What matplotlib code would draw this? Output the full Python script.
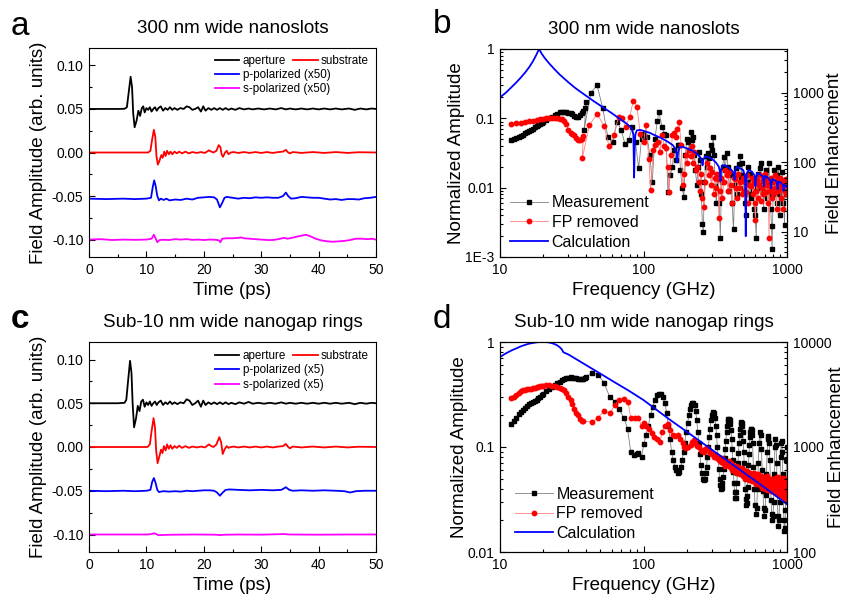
import matplotlib
matplotlib.use("Agg")
import matplotlib.pyplot as plt
from matplotlib.lines import Line2D
from matplotlib.ticker import FixedLocator, FixedFormatter, NullFormatter, LogLocator, MultipleLocator

plt.rcParams['font.family'] = ['Liberation Sans', 'DejaVu Sans']
plt.rcParams['axes.unicode_minus'] = False

# ---------------- panel a : 300 nm nanoslots, time traces ----------------
a_ap_t = [0, 5, 6.2, 6.6, 6.9, 7.25, 7.5, 7.7, 7.95, 8.3, 8.6, 8.9, 9.2, 9.45, 9.7, 10.0, 10.3, 10.6, 10.9,
          11.2, 11.5, 11.8, 12.1, 12.5, 12.9, 13.3, 13.7, 14.1, 14.5, 14.9, 15.4, 15.9, 16.5, 17.0, 17.5, 18.0,
          18.5, 19.0, 19.5, 19.9, 20.3, 20.8, 21.3, 21.8, 22.3, 22.8, 23.3, 23.8, 24.3, 24.8, 25.5, 26.2, 27,
          27.8, 28.5, 29.5, 30.5, 31.5, 32.5, 33.5, 34.3, 35, 36, 37, 38, 39, 40, 41, 42, 43, 44, 45.3, 46.3,
          47.3, 48.3, 49.2, 50]
a_ap_v = [0.050, 0.050, 0.0502, 0.052, 0.068, 0.087, 0.075, 0.045, 0.029, 0.037, 0.048, 0.042, 0.051, 0.053,
          0.046, 0.051, 0.049, 0.052, 0.047, 0.050, 0.052, 0.048, 0.051, 0.053, 0.048, 0.051, 0.049, 0.052,
          0.049, 0.051, 0.049, 0.051, 0.050, 0.053, 0.052, 0.049, 0.050, 0.052, 0.047, 0.053, 0.048, 0.051,
          0.049, 0.051, 0.049, 0.051, 0.049, 0.051, 0.049, 0.0505, 0.049, 0.051, 0.0495, 0.0505, 0.0495,
          0.0505, 0.0495, 0.0505, 0.0495, 0.051, 0.0495, 0.0505, 0.0495, 0.0505, 0.0495, 0.0505, 0.0495,
          0.0505, 0.0495, 0.0505, 0.0495, 0.0505, 0.049, 0.0505, 0.0495, 0.0505, 0.050]
a_sub_t = [0, 10.3, 10.7, 11.0, 11.3, 11.55, 11.75, 12.0, 12.3, 12.6, 12.85, 13.1, 13.35, 13.6, 13.9, 14.2, 14.5,
           14.9, 15.3, 15.7, 16.2, 16.8, 17.4, 18, 18.8, 19.5, 20.2, 20.9, 21.3, 21.7, 22.2, 22.6, 22.9, 23.1,
           23.35, 23.7, 24.0, 24.3, 24.7, 25.2, 26, 27, 28, 29, 30, 31, 32, 33, 33.8, 34.3, 34.7, 35, 35.5, 37,
           39, 41, 43, 45, 47, 50]
a_sub_v = [0, 0, 0.002, 0.015, 0.026, 0.018, -0.004, -0.014, -0.009, -0.003, -0.006, 0.001, -0.004, 0.002,
           -0.002, 0.001, -0.002, 0.001, -0.001, 0.001, -0.001, 0.001, -0.001, 0.0005, -0.0005, 0.0005, -0.0005,
           0.0025, 0.001, 0.0, 0.002, 0.0085, 0.006, -0.002, -0.005, 0.0, 0.002, -0.002, 0.0, 0.0005, -0.0005,
           0.0005, -0.0005, 0.0005, -0.0005, 0.0005, -0.0005, 0.0005, 0.001, 0.003, 0.0, -0.001, 0.0005,
           -0.0005, 0.0005, -0.0005, 0.0005, -0.0005, 0.0003, 0]
a_p_t = [0, 3, 6, 8, 10, 10.8, 11.1, 11.35, 11.6, 11.9, 12.2, 12.5, 13, 13.5, 14, 15, 16, 17, 18, 19, 20, 21,
         21.8, 22.3, 22.8, 23.2, 23.6, 24, 25, 26, 27, 28, 29, 30, 31, 32, 33, 33.8, 34.3, 34.7, 35.2, 36, 37,
         38, 39, 40, 41, 42, 43, 44, 45, 46, 47, 48, 49, 50]
a_p_v = [-0.053, -0.0535, -0.053, -0.0535, -0.053, -0.052, -0.040, -0.032, -0.038, -0.050, -0.055, -0.053,
         -0.0545, -0.053, -0.055, -0.054, -0.0545, -0.053, -0.054, -0.052, -0.0515, -0.051, -0.0515, -0.054,
         -0.063, -0.058, -0.052, -0.051, -0.052, -0.053, -0.052, -0.0525, -0.0515, -0.052, -0.0515, -0.052,
         -0.052, -0.050, -0.046, -0.050, -0.053, -0.0525, -0.051, -0.0515, -0.052, -0.052, -0.053, -0.054,
         -0.0535, -0.0545, -0.0535, -0.0535, -0.054, -0.0525, -0.052, -0.051]
a_s_t = [0, 2, 4, 6, 8, 10, 10.9, 11.3, 11.6, 11.9, 12.3, 13, 14, 15, 16, 17, 18, 19, 20, 21, 22, 22.6, 22.9,
         23.2, 24, 25, 26, 26.5, 27, 28, 29, 30, 31, 32, 33, 34, 34.5, 35, 36, 37, 37.8, 38.5, 39.5, 40.5, 41.5,
         42.5, 43.5, 44.5, 45.5, 46.5, 47.5, 48.5, 49.3, 50]
a_s_v = [-0.100, -0.0995, -0.1005, -0.100, -0.1003, -0.100, -0.099, -0.0945, -0.0985, -0.103, -0.1005, -0.1002,
         -0.1005, -0.0995, -0.100, -0.0995, -0.1003, -0.100, -0.1005, -0.100, -0.1002, -0.1008, -0.103, -0.099,
         -0.0985, -0.0985, -0.098, -0.0975, -0.0985, -0.099, -0.0995, -0.100, -0.1005, -0.1005, -0.0995,
         -0.098, -0.099, -0.0985, -0.097, -0.0955, -0.0945, -0.096, -0.099, -0.101, -0.102, -0.1025, -0.102,
         -0.1015, -0.1005, -0.099, -0.099, -0.0995, -0.099, -0.100]

# ---------------- panel c : sub-10 nm nanogap rings, time traces ----------------
c_ap_t = [0, 5, 6.2, 6.5, 6.8, 7.15, 7.4, 7.6, 7.85, 8.2, 8.5, 8.8, 9.1, 9.4, 9.7, 10.0, 10.3, 10.6, 10.9,
          11.2, 11.5, 11.8, 12.1, 12.5, 12.9, 13.3, 13.7, 14.1, 14.5, 14.9, 15.4, 15.9, 16.5, 17.0, 17.5, 18.0,
          18.5, 19.0, 19.5, 19.9, 20.3, 20.8, 21.3, 21.8, 22.3, 22.8, 23.3, 23.8, 24.3, 24.8, 25.5, 26.2, 27,
          27.8, 28.5, 29.5, 30.5, 31.5, 32.5, 33.5, 34.3, 35, 36, 37, 38, 39, 40, 41, 42, 43, 44, 45.3, 46.3,
          47.3, 48.3, 49.2, 50]
c_ap_v = [0.050, 0.050, 0.0505, 0.054, 0.075, 0.0985, 0.085, 0.050, 0.0225, 0.033, 0.047, 0.041, 0.052, 0.054,
          0.046, 0.051, 0.048, 0.052, 0.047, 0.050, 0.052, 0.048, 0.051, 0.053, 0.048, 0.051, 0.049, 0.052,
          0.049, 0.051, 0.049, 0.051, 0.050, 0.0545, 0.053, 0.048, 0.050, 0.053, 0.046, 0.053, 0.048, 0.051,
          0.049, 0.051, 0.049, 0.051, 0.049, 0.051, 0.049, 0.0505, 0.049, 0.051, 0.0495, 0.0515, 0.0495,
          0.0505, 0.0495, 0.0505, 0.0495, 0.051, 0.0495, 0.0505, 0.0495, 0.0505, 0.0495, 0.0505, 0.0495,
          0.0505, 0.0495, 0.0505, 0.0495, 0.0505, 0.049, 0.0505, 0.0495, 0.0505, 0.050]
c_sub_t = [0, 10.2, 10.6, 10.9, 11.25, 11.5, 11.7, 11.95, 12.25, 12.55, 12.8, 13.05, 13.35, 13.6, 13.9, 14.2,
           14.5, 14.9, 15.3, 15.7, 16.2, 16.8, 17.4, 18, 18.8, 19.5, 20.2, 20.9, 21.3, 21.7, 22.2, 22.7, 23.0,
           23.3, 23.6, 24.0, 24.3, 24.7, 25.2, 26, 27, 28, 29, 30, 31, 32, 33, 33.8, 34.3, 34.7, 35, 35.5, 37,
           39, 41, 43, 45, 47, 50]
c_sub_v = [0, 0, 0.003, 0.018, 0.033, 0.022, -0.004, -0.0185, -0.011, -0.003, -0.007, 0.001, -0.004, 0.003,
           -0.002, 0.002, -0.002, 0.001, -0.001, 0.0015, -0.001, 0.001, -0.001, 0.0005, -0.0005, 0.0005, -0.0005,
           0.003, 0.001, 0.0, 0.003, 0.0113, 0.006, -0.008, -0.003, 0.001, -0.001, 0.0, 0.0005, -0.0005, 0.0005,
           -0.0005, 0.0005, -0.0005, 0.0005, -0.0005, 0.0005, 0.001, 0.0035, 0.0, -0.0015, 0.0005, -0.0005,
           0.0005, -0.0005, 0.0005, -0.0005, 0.0003, 0]
c_p_t = [0, 3, 6, 8, 10, 10.7, 11.0, 11.3, 11.6, 11.9, 12.2, 12.5, 13, 14, 15, 16, 17, 18, 19, 20, 21, 21.8,
         22.3, 22.8, 23.3, 23.8, 24.5, 26, 28, 30, 32, 33.5, 34.3, 34.9, 35.5, 37, 39, 41, 43, 44.5, 45.5, 46.5,
         48, 50]
c_p_v = [-0.050, -0.0505, -0.050, -0.0505, -0.050, -0.049, -0.040, -0.0355, -0.041, -0.049, -0.0515, -0.051,
         -0.0505, -0.051, -0.0505, -0.051, -0.050, -0.0505, -0.050, -0.0495, -0.0495, -0.050, -0.052, -0.0557,
         -0.052, -0.049, -0.0485, -0.049, -0.0495, -0.049, -0.0495, -0.049, -0.046, -0.049, -0.050, -0.0495,
         -0.050, -0.0495, -0.050, -0.0505, -0.052, -0.0505, -0.050, -0.050]
c_s_t = [0, 5, 10, 10.9, 11.3, 11.7, 12.1, 14, 18, 22, 22.8, 23.4, 26, 30, 34, 35, 40, 45, 50]
c_s_v = [-0.100, -0.100, -0.100, -0.0995, -0.0985, -0.0995, -0.1008, -0.1003, -0.100, -0.1002, -0.1007,
         -0.1003, -0.1, -0.1002, -0.0995, -0.1, -0.1002, -0.1, -0.1]

# ---------------- panel b : 300 nm nanoslots, spectra ----------------
b_meas_f = [12, 12.5, 13, 13.5, 14, 14.5, 15, 15.5, 16, 16.5, 17, 17.5, 18, 18.5, 19, 19.5, 20, 21, 22, 23, 24,
            25, 26, 27, 28, 29, 30, 31, 32, 33, 34, 35, 36, 37, 38, 39, 40,
            38.5, 43, 47.5, 52, 56.5, 61, 65.5, 70, 74.5, 79, 83.5, 88, 92.5, 97, 101.5, 106, 110.5, 115, 120,
            125, 128, 135, 140, 143, 148, 153, 159, 163, 168, 173, 177, 181, 186, 191, 196, 200, 205, 209, 213,
            217, 221, 226, 230, 235, 240, 245, 249, 253, 257, 261, 266, 272, 277, 282, 288, 294, 300, 306, 311,
            316, 322, 330, 337, 343, 350, 356, 363, 371, 380, 388, 396, 405, 414, 424, 432, 440, 448, 456, 465,
            473, 480, 488, 497, 507, 517, 526, 535, 544, 554, 563, 573, 582, 591, 600, 610, 620, 630, 640, 650,
            657, 667, 677, 688, 698, 708, 718, 728, 738, 749, 760, 770, 780, 787, 800, 812, 824, 833, 845, 857,
            870, 880, 892, 905, 917, 928, 940, 950, 961, 972, 985, 995]
b_meas_v = [0.049, 0.050, 0.052, 0.054, 0.056, 0.058, 0.061, 0.063, 0.066, 0.068, 0.071, 0.074, 0.077, 0.080,
            0.083, 0.086, 0.089, 0.095, 0.101, 0.106, 0.112, 0.117, 0.122, 0.125, 0.124, 0.122, 0.120, 0.118,
            0.114, 0.108, 0.105, 0.106, 0.111, 0.118, 0.128, 0.142, 0.170,
            0.067, 0.235, 0.30, 0.14, 0.053, 0.045, 0.09, 0.067, 0.042, 0.048, 0.076, 0.045, 0.019, 0.051,
            0.060, 0.054, 0.030, 0.012, 0.050, 0.093, 0.122, 0.074, 0.060, 0.057, 0.0087, 0.015, 0.020, 0.035,
            0.025, 0.041, 0.041, 0.018, 0.0099, 0.0074, 0.030, 0.051, 0.045, 0.035, 0.063, 0.048, 0.054, 0.030,
            0.018, 0.011, 0.020, 0.033, 0.025, 0.008, 0.003, 0.0023, 0.012, 0.029, 0.020, 0.032, 0.027, 0.041,
            0.035, 0.054, 0.030, 0.0104, 0.006, 0.015, 0.006, 0.0019, 0.012, 0.020, 0.028, 0.018, 0.032, 0.020,
            0.009, 0.015, 0.006, 0.0025, 0.011, 0.019, 0.008, 0.014, 0.022, 0.029, 0.015, 0.023, 0.010, 0.006,
            0.004, 0.012, 0.020, 0.008, 0.016, 0.007, 0.0135, 0.009, 0.005, 0.004, 0.0019, 0.010, 0.016, 0.012,
            0.019, 0.023, 0.009, 0.0087, 0.005, 0.014, 0.010, 0.018, 0.007, 0.012, 0.023, 0.008, 0.005, 0.0028,
            0.0013, 0.008, 0.018, 0.010, 0.011, 0.006, 0.015, 0.020, 0.008, 0.004, 0.012, 0.009, 0.0167, 0.006,
            0.010, 0.0029, 0.012, 0.008, 0.011]
b_fp_f = [12, 13, 14, 15, 16, 17, 18, 19, 20, 21, 22, 23, 24, 25, 26, 27, 28, 29, 30, 31, 32, 33, 34, 35, 36,
          37, 38,
          37.5, 42, 47.5, 53, 57.5, 62, 67, 71, 75, 80, 85, 90, 95, 100, 104, 109, 112, 117, 121, 126, 130, 135,
          139, 143, 147, 151, 155, 159, 163, 168, 172, 177, 183, 188, 193, 198, 202, 207, 213, 217, 221, 226,
          231, 237, 243, 249, 253, 257, 264, 270, 278, 284, 290, 296, 302, 308, 314, 320, 326, 332, 335, 342,
          348, 355, 362, 370, 380, 388, 397, 405, 414, 424, 433, 440, 447, 456, 465, 473, 482, 490, 500, 508,
          517, 526, 535, 545, 559, 567, 576, 585, 595, 603, 610, 620, 630, 640, 650, 657, 665, 675, 685, 695,
          704, 712, 722, 733, 741, 749, 758, 768, 778, 790, 800, 810, 822, 834, 846, 858, 870, 884, 895, 907,
          918, 930, 942, 952, 961, 972, 980, 990, 998]
b_fp_v = [0.083, 0.085, 0.087, 0.089, 0.091, 0.093, 0.095, 0.097, 0.099, 0.100, 0.101, 0.100, 0.100, 0.101,
          0.099, 0.097, 0.093, 0.083, 0.068, 0.062, 0.060, 0.057, 0.052, 0.049, 0.048, 0.050, 0.055,
          0.027, 0.080, 0.116, 0.078, 0.040, 0.057, 0.105, 0.100, 0.075, 0.105, 0.180, 0.145, 0.060, 0.045,
          0.079, 0.026, 0.0092, 0.035, 0.041, 0.045, 0.033, 0.057, 0.040, 0.037, 0.020, 0.0087, 0.030, 0.057,
          0.062, 0.054, 0.070, 0.088, 0.041, 0.011, 0.016, 0.030, 0.023, 0.035, 0.029, 0.040, 0.023, 0.033,
          0.018, 0.020, 0.012, 0.009, 0.016, 0.0071, 0.0052, 0.012, 0.023, 0.015, 0.019, 0.011, 0.0167, 0.008,
          0.014, 0.010, 0.016, 0.0135, 0.0036, 0.009, 0.014, 0.0071, 0.012, 0.018, 0.0152, 0.009, 0.0167,
          0.011, 0.006, 0.014, 0.0132, 0.010, 0.0071, 0.016, 0.010, 0.0119, 0.008, 0.014, 0.009, 0.012,
          0.0087, 0.015, 0.006, 0.011, 0.0107, 0.014, 0.008, 0.012, 0.006, 0.0034, 0.009, 0.013, 0.007, 0.011,
          0.015, 0.0065, 0.010, 0.013, 0.008, 0.012, 0.016, 0.0087, 0.011, 0.006, 0.013, 0.0019, 0.009, 0.014,
          0.010, 0.007, 0.012, 0.0083, 0.015, 0.010, 0.005, 0.013, 0.009, 0.011, 0.014, 0.007, 0.012, 0.010,
          0.005, 0.013, 0.011, 0.009, 0.0135, 0.008, 0.012]
b_calc_f = [10, 11, 12, 13, 14, 15, 16, 17, 18, 18.7, 19.5, 20.5, 22, 24, 26, 28, 30, 33, 36, 40, 45, 50, 55,
            60, 65, 70, 75, 80, 83, 85, 86, 87, 88, 90, 95, 100, 110, 120, 130, 140, 150, 160, 166, 170, 172,
            174, 178, 185, 200, 220, 240, 250, 255, 258, 261, 268, 280, 300, 320, 335, 341, 344, 347, 355, 370,
            400, 420, 428, 431, 434, 445, 470, 495, 508, 513, 516, 519, 524, 540, 570, 595, 600, 603, 607, 620,
            650, 680, 686, 689, 693, 705, 740, 766, 771, 775, 779, 790, 830, 852, 857, 861, 865, 875, 910, 938,
            943, 947, 951, 962, 985, 1000]
b_calc_v = [0.20, 0.235, 0.28, 0.33, 0.39, 0.46, 0.55, 0.67, 0.84, 1.0, 0.86, 0.74, 0.62, 0.51, 0.43, 0.375,
            0.33, 0.28, 0.245, 0.21, 0.177, 0.153, 0.134, 0.119, 0.106, 0.095, 0.086, 0.077, 0.070, 0.058,
            0.014, 0.045, 0.060, 0.067, 0.068, 0.066, 0.062, 0.057, 0.053, 0.049, 0.045, 0.041, 0.037, 0.031,
            0.023, 0.032, 0.038, 0.039, 0.037, 0.034, 0.030, 0.027, 0.024, 0.021, 0.025, 0.028, 0.028, 0.026,
            0.023, 0.020, 0.017, 0.0125, 0.018, 0.021, 0.021, 0.019, 0.017, 0.015, 0.013, 0.017, 0.020, 0.019,
            0.018, 0.015, 0.009, 0.002, 0.009, 0.016, 0.018, 0.017, 0.015, 0.012, 0.0105, 0.013, 0.0163, 0.0155,
            0.0145, 0.012, 0.0105, 0.0125, 0.0148, 0.0138, 0.0125, 0.011, 0.0098, 0.011, 0.0133, 0.0127, 0.012,
            0.0105, 0.0095, 0.0105, 0.0122, 0.0117, 0.011, 0.0098, 0.009, 0.0098, 0.011, 0.0105, 0.0101]

# ---------------- panel d : sub-10 nm nanogap rings, spectra ----------------
d_meas_f = [12, 12.5, 13, 13.5, 14, 14.5, 15, 15.5, 16, 16.5, 17, 17.5, 18, 18.5, 19, 19.5, 20, 21, 22, 23, 24,
            25, 26, 27, 28, 29, 30, 31, 32, 33, 34, 35, 36, 37, 38, 39, 40,
            43.5, 48.3, 52.9, 58.2, 63.2, 67.3, 72.9, 77.4, 81.5, 85.9, 89.5, 92, 96.9, 100.5, 104, 108, 112,
            116, 120, 125, 129, 133, 137, 141, 145, 149, 153, 157, 161, 165, 169, 174, 178, 182, 186, 190, 194,
            198, 203, 207, 211, 215, 219, 223, 227, 231, 235, 239, 243, 247, 251, 255, 259, 263, 267, 271, 275,
            279, 283, 287, 291, 295, 299, 303, 307, 311, 315, 319, 323, 327, 331, 335, 339, 343, 347, 351, 355,
            359, 363, 367, 371, 375, 379, 383, 387, 391, 395, 399, 403, 407, 411, 415, 419, 423, 427, 431, 435,
            439, 443, 447, 451, 455, 459, 463, 467, 471, 475, 479, 483, 487, 491, 495, 499, 503, 507, 511, 515,
            519, 523, 527, 531, 535, 539, 543, 547, 551, 555, 559, 563, 567, 571, 575, 583, 591, 599, 607, 615,
            623, 631, 639, 647, 655, 663, 671, 679, 687, 695, 703, 711, 719, 727, 735, 743, 751, 759, 767, 775,
            783, 791, 799, 807, 815, 823, 831, 839, 847, 855, 863, 871, 879, 887, 895, 903, 911, 919, 927, 935,
            943, 951, 959, 967, 975, 983, 991, 999]
d_meas_v = [0.167, 0.175, 0.19, 0.205, 0.215, 0.225, 0.235, 0.245, 0.255, 0.26, 0.267, 0.275, 0.282, 0.29,
            0.30, 0.31, 0.32, 0.34, 0.358, 0.375, 0.39, 0.405, 0.42, 0.435, 0.445, 0.452, 0.457, 0.46, 0.458,
            0.455, 0.45, 0.445, 0.44, 0.443, 0.448, 0.455, 0.465,
            0.51, 0.49, 0.41, 0.30, 0.27, 0.232, 0.19, 0.15, 0.09, 0.083, 0.086, 0.087, 0.081, 0.106, 0.13,
            0.16, 0.2, 0.24, 0.28, 0.31, 0.32, 0.32, 0.30, 0.26, 0.21, 0.16, 0.12, 0.09, 0.075, 0.065, 0.06,
            0.056, 0.058, 0.065, 0.075, 0.09, 0.11, 0.14, 0.17, 0.2, 0.23, 0.25, 0.26, 0.265, 0.25, 0.22, 0.18,
            0.14, 0.11, 0.085, 0.068, 0.057, 0.05, 0.048, 0.05, 0.056, 0.065, 0.08, 0.1, 0.125, 0.15, 0.18, 0.2,
            0.21, 0.216, 0.21, 0.19, 0.16, 0.13, 0.1, 0.08, 0.062, 0.05, 0.043, 0.040, 0.041, 0.045, 0.052,
            0.062, 0.078, 0.095, 0.115, 0.14, 0.16, 0.175, 0.185, 0.186, 0.18, 0.165, 0.145, 0.12, 0.095, 0.075,
            0.058, 0.045, 0.037, 0.0325, 0.033, 0.037, 0.045, 0.056, 0.07, 0.088, 0.11, 0.13, 0.15, 0.165,
            0.173, 0.17, 0.16, 0.14, 0.115, 0.09, 0.07, 0.053, 0.04, 0.032, 0.028, 0.029, 0.034, 0.042, 0.053,
            0.067, 0.085, 0.105, 0.125, 0.14, 0.148, 0.15, 0.145, 0.13, 0.11, 0.065, 0.04, 0.028, 0.023, 0.026,
            0.04, 0.07, 0.11, 0.139, 0.13, 0.095, 0.06, 0.038, 0.026, 0.022, 0.025, 0.035, 0.055, 0.09, 0.12,
            0.128, 0.11, 0.075, 0.048, 0.031, 0.023, 0.020, 0.022, 0.03, 0.055, 0.1, 0.12, 0.105, 0.07, 0.04,
            0.022, 0.0175, 0.02, 0.03, 0.05, 0.08, 0.11, 0.115, 0.09, 0.055, 0.032, 0.02, 0.016, 0.017, 0.025,
            0.045, 0.075, 0.1]
d_fp_f = [12, 12.5, 13, 13.5, 14, 14.5, 15, 15.5, 16, 16.5, 17, 17.5, 18, 18.5, 19, 19.5, 20, 21, 22, 23, 24,
          25, 26, 27, 28, 29, 30, 31, 32, 33, 34, 35, 36, 37, 38,
          43.5, 48.3, 53, 58.2, 63.2, 67.3, 72.9, 78, 81.5, 87, 91.7, 97, 100, 104, 109, 114, 118, 124, 130,
          135, 141, 147, 153, 160, 167, 174, 180, 187, 192, 197, 205, 213, 218, 224, 230, 236, 243, 250, 256,
          263, 270, 277, 285, 292, 300, 310, 318, 326, 334, 346, 352, 358, 364, 370, 376, 382, 390, 396, 402,
          408, 414, 420, 426, 432, 438, 444, 450, 456, 462, 468, 474, 480, 486, 492, 498, 504, 510, 516, 522,
          528, 534, 540, 546, 552, 558, 564, 570, 576, 582, 588, 594, 600, 606, 612, 618, 624, 630, 636, 642,
          648, 654, 660, 666, 672, 678, 684, 690, 696, 702, 708, 714, 720, 726, 732, 738, 744, 750, 756, 762,
          768, 774, 780, 786, 792, 798, 804, 810, 816, 822, 828, 834, 840, 846, 852, 858, 864, 870, 876, 882,
          888, 894, 900, 906, 912, 918, 924, 930, 936, 942, 948, 954, 960, 966, 972, 978, 984, 990, 996]
d_fp_v = [0.29, 0.30, 0.315, 0.33, 0.34, 0.35, 0.352, 0.355, 0.357, 0.36, 0.365, 0.368, 0.37, 0.375, 0.378,
          0.38, 0.383, 0.387, 0.386, 0.385, 0.38, 0.372, 0.365, 0.36, 0.35, 0.33, 0.30, 0.28, 0.255, 0.23, 0.21,
          0.20, 0.185, 0.178, 0.176,
          0.173, 0.19, 0.22, 0.21, 0.25, 0.28, 0.285, 0.27, 0.19, 0.19, 0.19, 0.16, 0.17, 0.16, 0.15, 0.135,
          0.125, 0.118, 0.112, 0.14, 0.16, 0.167, 0.145, 0.129, 0.128, 0.129, 0.118, 0.108, 0.1, 0.097, 0.1,
          0.104, 0.112, 0.116, 0.108, 0.103, 0.1, 0.094, 0.092, 0.09, 0.095, 0.098, 0.093, 0.088, 0.085, 0.081,
          0.083, 0.078, 0.075, 0.072, 0.079, 0.07, 0.074, 0.066, 0.071, 0.069, 0.067, 0.073, 0.064, 0.07,
          0.061, 0.068, 0.063, 0.058, 0.066, 0.06, 0.057, 0.065, 0.058, 0.062, 0.055, 0.058, 0.063, 0.053,
          0.06, 0.056, 0.05, 0.058, 0.053, 0.059, 0.052, 0.056, 0.048, 0.057, 0.05, 0.055, 0.047, 0.054, 0.05,
          0.056, 0.046, 0.053, 0.049, 0.044, 0.052, 0.047, 0.055, 0.045, 0.05, 0.043, 0.053, 0.048, 0.041,
          0.05, 0.046, 0.052, 0.044, 0.048, 0.04, 0.05, 0.045, 0.053, 0.043, 0.047, 0.039, 0.049, 0.044, 0.05,
          0.041, 0.047, 0.038, 0.048, 0.043, 0.05, 0.04, 0.046, 0.037, 0.048, 0.042, 0.051, 0.039, 0.045,
          0.036, 0.047, 0.041, 0.052, 0.038, 0.046, 0.035, 0.044, 0.04, 0.05, 0.037, 0.045, 0.034, 0.046, 0.04,
          0.051, 0.036, 0.044, 0.033, 0.045, 0.039, 0.05, 0.035, 0.043, 0.032, 0.047]
d_calc_f = [10, 11, 12, 13, 14, 15, 16, 17, 18, 19, 20, 21, 22, 23, 24, 25, 26, 27, 27.6, 30, 40, 50, 60, 80,
            100, 150, 200, 300, 400, 500, 700, 1000]
d_calc_v = [0.72, 0.78, 0.83, 0.87, 0.91, 0.94, 0.965, 0.98, 0.993, 1.0, 1.0, 0.998, 0.99, 0.975, 0.955, 0.93,
            0.895, 0.85, 0.80, 0.76, 0.60, 0.50, 0.43, 0.34, 0.28, 0.185, 0.14, 0.094, 0.071, 0.057, 0.041,
            0.0285]

W, H = 848, 597
fig = plt.figure(figsize=(W / 100, H / 100), dpi=100)


def box(l, t, r, b):
    return [l / W, 1 - b / H, (r - l) / W, (b - t) / H]


ax_a = fig.add_axes(box(89, 48, 376, 257))
ax_b = fig.add_axes(box(500, 49, 787, 257))
ax_c = fig.add_axes(box(89, 342, 376, 552))
ax_d = fig.add_axes(box(500, 342, 787, 552))

tick_kw = dict(direction="in", labelsize=10, width=0.8, pad=4)


def time_panel(ax, traces, title, labels, leg_y):
    for t, v, col in traces:
        ax.plot(t, v, color=col, lw=1.3)
    ax.set_xlim(0, 50)
    ax.set_ylim(-0.12, 0.12)
    ax.xaxis.set_major_locator(MultipleLocator(10))
    ax.xaxis.set_minor_locator(MultipleLocator(5))
    ax.yaxis.set_major_locator(FixedLocator([-0.10, -0.05, 0.0, 0.05, 0.10]))
    ax.yaxis.set_major_formatter(FixedFormatter(["-0.10", "-0.05", "0.00", "0.05", "0.10"]))
    ax.yaxis.set_minor_locator(MultipleLocator(0.025))
    ax.tick_params(which="both", top=False, right=False, **tick_kw)
    ax.tick_params(which="major", length=4.5)
    ax.tick_params(which="minor", length=2.5)
    ax.set_xlabel("Time (ps)", fontsize=13.5, labelpad=4)
    ax.set_ylabel("Field Amplitude (arb. units)", fontsize=13.5, labelpad=3.5)
    ax.set_title(title, fontsize=13.5, pad=10.5)
    cols = [c for _, _, c in traces]
    h = [Line2D([], [], color=c, lw=1.3) for c in cols]
    leg1 = ax.legend([h[0], h[2], h[3]], [labels[0], labels[2], labels[3]], loc="upper left",
                     bbox_to_anchor=(0.439, leg_y), frameon=False, fontsize=8.4, borderpad=0,
                     borderaxespad=0, handlelength=2.1, handletextpad=0.3, labelspacing=0.2)
    ax.add_artist(leg1)
    ax.legend([h[1]], [labels[1]], loc="upper left", bbox_to_anchor=(0.711, leg_y), frameon=False,
              fontsize=8.4, borderpad=0, borderaxespad=0, handlelength=2.1, handletextpad=0.3)


def spec_panel(ax, meas, fp, calc, title, ylim, rlim, yticks, ylabels, rticks, rlabels, leg_xy, rlab_x):
    ax.plot(meas[0], meas[1], color="#808080", lw=0.6, marker="s", ms=2.8, mfc="black", mec="black")
    ax.plot(fp[0], fp[1], color="#ff8080", lw=0.6, marker="o", ms=3.2, mfc="red", mec="red")
    ax.plot(calc[0], calc[1], color="blue", lw=1.3)
    ax.set_xscale("log")
    ax.set_yscale("log")
    ax.set_xlim(10, 1000)
    ax.set_ylim(*ylim)
    ax.xaxis.set_major_locator(FixedLocator([10, 100, 1000]))
    ax.xaxis.set_major_formatter(FixedFormatter(["10", "100", "1000"]))
    ax.xaxis.set_minor_locator(LogLocator(subs=range(2, 10)))
    ax.xaxis.set_minor_formatter(NullFormatter())
    ax.yaxis.set_major_locator(FixedLocator(yticks))
    ax.yaxis.set_major_formatter(FixedFormatter(ylabels))
    ax.yaxis.set_minor_locator(LogLocator(subs=range(2, 10)))
    ax.yaxis.set_minor_formatter(NullFormatter())
    ax.tick_params(which="both", top=False, right=False, **tick_kw)
    ax.tick_params(which="major", length=4.5)
    ax.tick_params(which="minor", length=2.5)
    ax.set_xlabel("Frequency (GHz)", fontsize=13.5, labelpad=4)
    ax.set_ylabel("Normalized Amplitude", fontsize=13.5, labelpad=0)
    ax.set_title(title, fontsize=13.5, pad=10.5)
    handles = [Line2D([], [], color="#808080", lw=0.6, marker="s", ms=2.8, mfc="black", mec="black"),
               Line2D([], [], color="#ff8080", lw=0.6, marker="o", ms=3.2, mfc="red", mec="red"),
               Line2D([], [], color="blue", lw=1.3)]
    ax.legend(handles, ["Measurement", "FP removed", "Calculation"], loc="lower left",
              bbox_to_anchor=leg_xy, frameon=False, fontsize=11.5, borderpad=0, borderaxespad=0,
              handlelength=2.4, handletextpad=0.2, labelspacing=0.29, numpoints=1)
    ax2 = ax.twinx()
    ax2.set_yscale("log")
    ax2.set_ylim(*rlim)
    ax2.yaxis.set_major_locator(FixedLocator(rticks))
    ax2.yaxis.set_major_formatter(FixedFormatter(rlabels))
    ax2.yaxis.set_minor_locator(LogLocator(subs=range(2, 10)))
    ax2.yaxis.set_minor_formatter(NullFormatter())
    ax2.tick_params(which="both", **tick_kw)
    ax2.tick_params(which="major", length=4.5)
    ax2.tick_params(which="minor", length=2.5)
    ax2.set_ylabel("Field Enhancement", fontsize=13.5)
    ax2.yaxis.set_label_coords(rlab_x, 0.5)


time_panel(ax_a, [(a_ap_t, a_ap_v, "black"), (a_sub_t, a_sub_v, "red"), (a_p_t, a_p_v, "blue"),
                  (a_s_t, a_s_v, "magenta")], "300 nm wide nanoslots",
           ["aperture", "substrate", "p-polarized (x50)", "s-polarized (x50)"], 0.968)
time_panel(ax_c, [(c_ap_t, c_ap_v, "black"), (c_sub_t, c_sub_v, "red"), (c_p_t, c_p_v, "blue"),
                  (c_s_t, c_s_v, "magenta")], "Sub-10 nm wide nanogap rings",
           ["aperture", "substrate", "p-polarized (x5)", "s-polarized (x5)"], 0.962)
spec_panel(ax_b, (b_meas_f, b_meas_v), (b_fp_f, b_fp_v), (b_calc_f, b_calc_v), "300 nm wide nanoslots",
           (0.001, 1), (4.3, 4300), [0.001, 0.01, 0.1, 1], ["1E-3", "0.01", "0.1", "1"],
           [10, 100, 1000], ["10", "100", "1000"], (0.035, 0.035), 1.136)
spec_panel(ax_d, (d_meas_f, d_meas_v), (d_fp_f, d_fp_v), (d_calc_f, d_calc_v), "Sub-10 nm wide nanogap rings",
           (0.01, 1), (100, 10000), [0.01, 0.1, 1], ["0.01", "0.1", "1"],
           [100, 1000, 10000], ["100", "1000", "10000"], (0.052, 0.052), 1.143)

for x, y, s, w in [(11, 35, "a", "normal"), (433, 33, "b", "normal"), (11, 328, "c", "bold"),
                   (433, 328, "d", "normal")]:
    fig.text(x / W, 1 - y / H, s, fontsize=24, fontweight=w, ha="left", va="baseline")

fig.savefig("out.png", dpi=100)
